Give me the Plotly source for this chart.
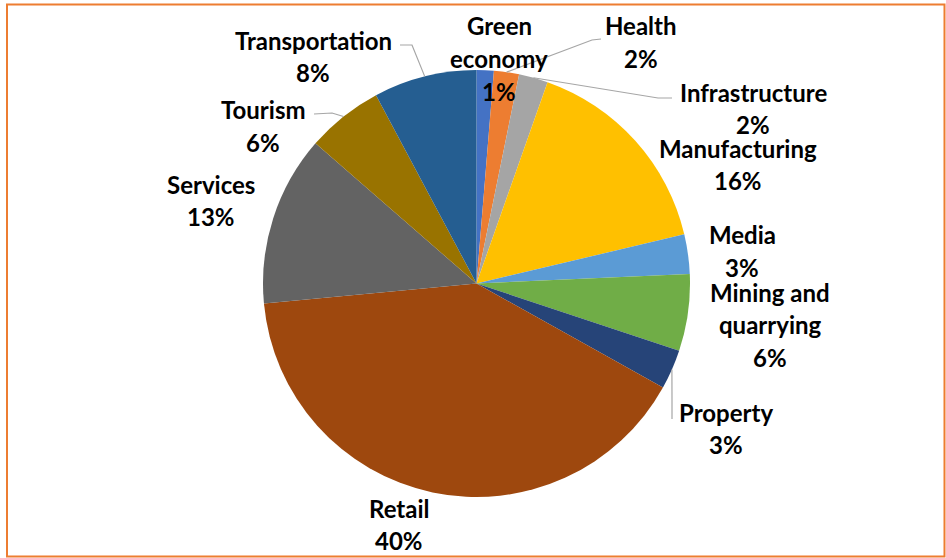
import math
import plotly.graph_objects as go

# ---- data ----
sectors = ["Green economy", "Health", "Infrastructure", "Manufacturing", "Media",
           "Mining and quarrying", "Property", "Retail", "Services", "Tourism",
           "Transportation"]
shares = [1.3, 1.9, 2.2, 15.9, 3.0, 5.8, 3.0, 40.4, 12.9, 5.8, 7.8]
label_lines = [["Green", "economy"], ["Health"], ["Infrastructure"], ["Manufacturing"],
               ["Media"], ["Mining and", "quarrying"], ["Property"], ["Retail"],
               ["Services"], ["Tourism"], ["Transportation"]]
colors = ["#4472C4", "#ED7D31", "#A5A5A5", "#FFC000", "#5B9BD5", "#70AD47",
          "#264478", "#9E480E", "#636363", "#997300", "#255E91"]

# ---- layout (pixels) ----
W, H = 946, 558
CX, CY, R = 476.5, 283.5, 213.5
label_pos = [(499, 26), (641, 26), (753, 92), (738, 148), (742, 235), (770, 292),
             (726, 412), (399, 508), (211, 184), (263, 110), (313, 40)]
LINE_H = 32.5
leaders = {  # label index -> polyline start points (pixels), ends at slice edge
    10: [(400, 45), (412, 45)],
    9: [(314, 114), (332, 113)],
    1: [(601, 39), (592, 40)],
    2: [(672, 98), (658, 98)],
    6: [(672, 419), (672, 400)],
}

def px(x):
    return x / W

def py(y):
    return 1 - y / H

total = sum(shares)
pct = [f"{round(v / total * 100)}%" for v in shares]

fig = go.Figure()
fig.add_trace(go.Pie(
    labels=sectors, values=shares, sort=False, direction="clockwise", rotation=0,
    marker=dict(colors=colors, line=dict(width=0)),
    textinfo="none", showlegend=False,
    domain=dict(x=[px(CX - R), px(CX + R)], y=[py(CY + R), py(CY - R)]),
))

annotations = []
for i, lines in enumerate(label_lines):
    x0, y0 = label_pos[i]
    for k, t in enumerate(lines + [pct[i]]):
        annotations.append(dict(
            x=px(x0), y=py(y0 + k * LINE_H), xref="paper", yref="paper",
            text=t, showarrow=False, xanchor="center", yanchor="middle",
            font=dict(family="Lato", size=24, color="#000000", weight=700),
        ))

shapes = [dict(type="rect", xref="paper", yref="paper",
               x0=px(7), x1=px(944.5), y0=py(556.5), y1=py(4.5),
               line=dict(color="#ED7D31", width=2), fillcolor="rgba(0,0,0,0)")]

cum = 0.0
mids = []
for v in shares:
    mids.append((cum + v / 2) / total)
    cum += v
for i, pts in leaders.items():
    ang = mids[i] * 2 * math.pi
    ex, ey = CX + R * math.sin(ang), CY - R * math.cos(ang)
    allp = pts + [(ex, ey)]
    path = "M " + " L ".join(f"{px(a)},{py(b)}" for a, b in allp)
    shapes.append(dict(type="path", xref="paper", yref="paper", path=path,
                       line=dict(color="#A6A6A6", width=1.2)))

fig.update_layout(
    width=W, height=H, margin=dict(l=0, r=0, t=0, b=0),
    paper_bgcolor="white", plot_bgcolor="white",
    annotations=annotations, shapes=shapes,
)
fig.write_html("out.html", config={"displayModeBar": False},
               post_script="document.body.style.margin='0';document.body.style.overflow='hidden';")
